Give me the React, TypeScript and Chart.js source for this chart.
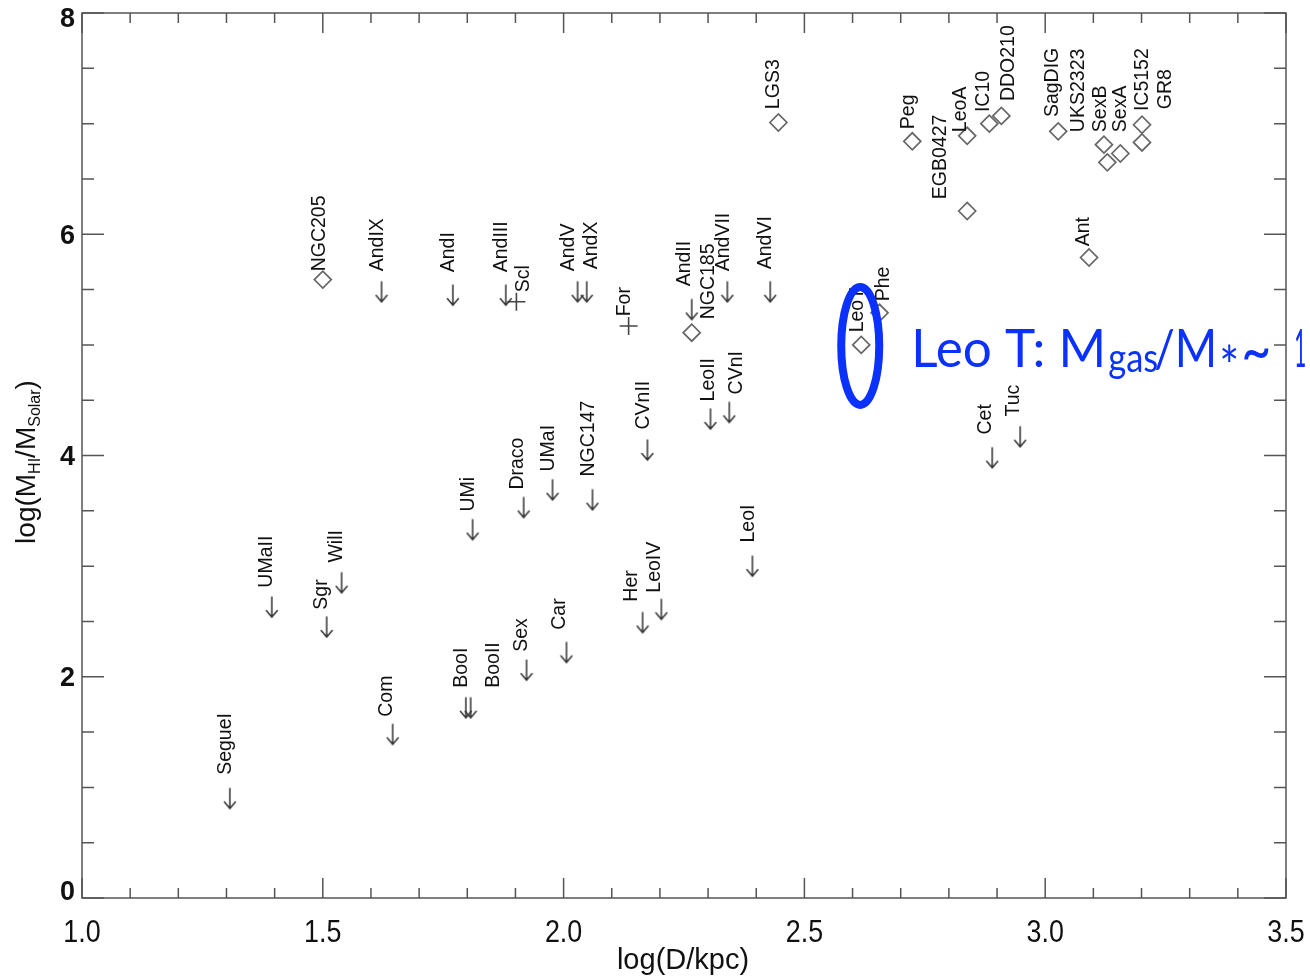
import React, { useEffect, useRef } from "react";
import { Chart, registerables } from "chart.js";

Chart.register(...registerables);

// ---- data ----
const names = [
  "NGC205", "AndIX", "AndI", "AndIII", "Scl", "AndV", "AndX", "For", "AndII", "NGC185",
  "AndVII", "AndVI", "LeoT", "Phe", "LeoII", "CVnI", "CVnII", "NGC147", "UMaI", "Draco",
  "UMi", "WilI", "UMaII", "Sgr", "Com", "BooI", "BooII", "Sex", "Car", "Her",
  "LeoIV", "LeoI", "Cet", "Tuc", "SegueI", "LGS3", "Peg", "EGB0427", "LeoA", "IC10",
  "DDO210", "SagDIG", "UKS2323", "SexB", "SexA", "IC5152", "GR8", "Ant",
];
// log(D/kpc)
const logD = [
  1.500, 1.622, 1.770, 1.880, 1.902, 2.029, 2.048, 2.135, 2.266, 2.266,
  2.340, 2.429, 2.618, 2.656, 2.305, 2.344, 2.174, 2.060, 1.977, 1.917,
  1.811, 1.539, 1.394, 1.508, 1.645, 1.797, 1.807, 1.923, 2.006, 2.164,
  2.203, 2.392, 2.890, 2.948, 1.307, 2.446, 2.724, 2.838, 2.838, 2.884,
  2.909, 3.027, 3.129, 3.122, 3.156, 3.201, 3.201, 3.091,
];
// log(M_HI / M_Solar)
const logMHI = [
  5.59, 5.48, 5.45, 5.45, 5.39, 5.48, 5.48, 5.17, 5.32, 5.11,
  5.48, 5.48, 5.00, 5.29, 4.33, 4.39, 4.05, 3.60, 3.69, 3.53,
  3.33, 2.85, 2.63, 2.45, 1.48, 1.72, 1.72, 2.06, 2.22, 2.49,
  2.61, 3.00, 3.98, 4.17, 0.90, 7.01, 6.84, 6.21, 6.89, 7.00,
  7.07, 6.93, 6.65, 6.81, 6.73, 6.99, 6.83, 5.79,
];
// d = detection, u = upper limit, o = other
const kinds = [
  "d", "u", "u", "u", "o", "u", "u", "o", "u", "d",
  "u", "u", "d", "d", "u", "u", "u", "u", "u", "u",
  "u", "u", "u", "u", "u", "u", "u", "u", "u", "u",
  "u", "u", "u", "u", "u", "d", "d", "d", "d", "d",
  "d", "d", "d", "d", "d", "d", "d", "d",
];
// label anchors (data coordinates, start of rotated text)
const labelLogD = [
  1.490, 1.610, 1.757, 1.867, 1.913, 2.008, 2.054, 2.124, 2.247, 2.297,
  2.328, 2.417, 2.608, 2.662, 2.297, 2.355, 2.162, 2.048, 1.965, 1.902,
  1.799, 1.525, 1.380, 1.494, 1.629, 1.784, 1.851, 1.909, 1.988, 2.137,
  2.185, 2.380, 2.873, 2.932, 1.295, 2.432, 2.712, 2.780, 2.822, 2.869,
  2.921, 3.012, 3.066, 3.112, 3.154, 3.199, 3.247, 3.077,
];
const labelLogM = [
  5.665, 5.665, 5.656, 5.656, 5.475, 5.665, 5.683, 5.258, 5.529, 5.231,
  5.665, 5.683, 5.113, 5.394, 4.489, 4.552, 4.235, 3.810, 3.855, 3.692,
  3.493, 3.032, 2.805, 2.606, 1.638, 1.900, 1.900, 2.226, 2.425, 2.679,
  2.760, 3.213, 4.190, 4.353, 1.113, 7.131, 6.950, 6.317, 6.923, 7.104,
  7.204, 7.059, 6.923, 6.923, 6.923, 7.113, 7.131, 5.891,
];
const xTickValues = [1.0, 1.5, 2.0, 2.5, 3.0, 3.5];
const yTickValues = [0, 2, 4, 6, 8];
const highlighted = "LeoT";
const annotationParts = ["Leo T: M", "gas", "/M", "*", "~", "1"];

const LABEL_FONT = '"Liberation Sans", Arial, Helvetica, sans-serif';

function makeArrow(): HTMLCanvasElement {
  const c = document.createElement("canvas");
  c.width = 14;
  c.height = 24;
  const g = c.getContext("2d")!;
  g.strokeStyle = "#333";
  g.lineWidth = 1.5;
  g.lineCap = "round";
  g.beginPath();
  g.moveTo(7, 2);
  g.lineTo(7, 22);
  g.moveTo(1.5, 15.5);
  g.lineTo(7, 22);
  g.lineTo(12.5, 15.5);
  g.stroke();
  return c;
}

const framePlugin = {
  id: "frameTicks",
  afterDatasetsDraw(chart: any) {
    const { ctx, chartArea: a, scales } = chart;
    const xs = scales.x, ys = scales.y;
    ctx.save();
    ctx.strokeStyle = "#555";
    ctx.lineWidth = 1.5;
    ctx.strokeRect(a.left, a.top, a.right - a.left, a.bottom - a.top);
    ctx.beginPath();
    for (let i = 10; i <= 35; i++) {
      const px = xs.getPixelForValue(i / 10);
      const len = i % 5 === 0 ? 20 : 10;
      ctx.moveTo(px, a.bottom);
      ctx.lineTo(px, a.bottom - len);
      ctx.moveTo(px, a.top);
      ctx.lineTo(px, a.top + len);
    }
    for (let i = 0; i <= 16; i++) {
      const py = ys.getPixelForValue(i / 2);
      const len = i % 4 === 0 ? 22 : 12;
      ctx.moveTo(a.left, py);
      ctx.lineTo(a.left + len, py);
      ctx.moveTo(a.right, py);
      ctx.lineTo(a.right - len, py);
    }
    ctx.stroke();

    // tick labels
    ctx.fillStyle = "#111";
    ctx.textBaseline = "middle";
    ctx.textAlign = "right";
    ctx.font = `bold 27px ${LABEL_FONT}`;
    yTickValues.forEach((v) => {
      const py = ys.getPixelForValue(v);
      const cy = Math.min(Math.max(py + 2, a.top + 7), a.bottom - 5);
      ctx.fillText(String(v), a.left - 7, cy);
    });
    ctx.textAlign = "center";
    ctx.textBaseline = "alphabetic";
    ctx.font = `32px ${LABEL_FONT}`;
    xTickValues.forEach((v) => {
      const px = xs.getPixelForValue(v);
      ctx.save();
      ctx.translate(px, a.bottom + 44);
      ctx.scale(0.84, 1);
      ctx.fillText(v.toFixed(1), 0, 0);
      ctx.restore();
    });
    ctx.restore();
  },
};

const labelPlugin = {
  id: "pointLabels",
  afterDatasetsDraw(chart: any) {
    const { ctx, scales } = chart;
    const fs = 19.5;
    ctx.save();
    ctx.font = `${fs}px ${LABEL_FONT}`;
    ctx.fillStyle = "#111";
    ctx.textAlign = "left";
    ctx.textBaseline = "alphabetic";
    names.forEach((n, i) => {
      const px = scales.x.getPixelForValue(labelLogD[i]);
      const py = scales.y.getPixelForValue(labelLogM[i]);
      ctx.save();
      ctx.translate(px + fs * 0.36, py);
      ctx.rotate(-Math.PI / 2);
      ctx.fillText(n, 0, 0);
      ctx.restore();
    });
    ctx.restore();
  },
};

const titlePlugin = {
  id: "axisTitles",
  afterDraw(chart: any) {
    const { ctx } = chart;
    ctx.save();
    ctx.fillStyle = "#111";
    ctx.textBaseline = "alphabetic";
    // x title
    ctx.font = `29px ${LABEL_FONT}`;
    ctx.textAlign = "center";
    ctx.fillText("log(D/kpc)", 683, 969);
    // y title with subscripts, rotated
    const big = `28px ${LABEL_FONT}`;
    const small = `16px ${LABEL_FONT}`;
    const parts: [string, string, number][] = [
      ["log(M", big, 0],
      ["HI", small, 5],
      ["/M", big, 0],
      ["Solar", small, 5],
      [")", big, 0],
    ];
    let total = 0;
    parts.forEach(([t, f]) => {
      ctx.font = f;
      total += ctx.measureText(t).width;
    });
    ctx.translate(35, 462 + total / 2);
    ctx.rotate(-Math.PI / 2);
    ctx.textAlign = "left";
    let x = 0;
    parts.forEach(([t, f, dy]) => {
      ctx.font = f;
      ctx.fillText(t, x, dy);
      x += ctx.measureText(t).width;
    });
    ctx.restore();
  },
};

const annotationPlugin = {
  id: "leoT",
  afterDraw(chart: any) {
    const { ctx, scales } = chart;
    const i = names.indexOf(highlighted);
    const cx = scales.x.getPixelForValue(logD[i]);
    const cy = scales.y.getPixelForValue(logMHI[i]);
    const blue = "#0b31ff";
    ctx.save();
    ctx.strokeStyle = blue;
    ctx.lineWidth = 8;
    ctx.beginPath();
    ctx.ellipse(cx - 1, cy + 1, 19, 59, 0, 0, Math.PI * 2);
    ctx.stroke();

    ctx.fillStyle = blue;
    ctx.textAlign = "left";
    ctx.textBaseline = "alphabetic";
    const base = cy + 22;
    const x0 = cx + 50;
    const F = '"Lato", "Open Sans", sans-serif';
    ctx.font = `53px ${F}`;
    ctx.fillText(annotationParts[0], x0, base, 195);
    ctx.font = `40px ${F}`;
    ctx.fillText(annotationParts[1], x0 + 197, base + 5, 50);
    ctx.font = `53px ${F}`;
    ctx.fillText(annotationParts[2], x0 + 243, base, 63);
    ctx.font = `54px ${F}`;
    ctx.fillText(annotationParts[3], x0 + 308, base + 18, 20);
    ctx.font = `64px ${F}`;
    ctx.fillText(annotationParts[4], x0 + 330, base + 6, 30);
    ctx.font = `53px ${F}`;
    ctx.fillText(annotationParts[5], x0 + 383, base, 12);
    ctx.restore();
  },
};

export default function App() {
  const ref = useRef<HTMLCanvasElement | null>(null);

  useEffect(() => {
    if (!ref.current) return;
    const arrow = makeArrow();
    const pts = (k: string) =>
      names
        .map((_, i) => ({ x: logD[i], y: logMHI[i], k: kinds[i] }))
        .filter((p) => p.k === k)
        .map((p) => ({ x: p.x, y: p.y }));

    const chart = new Chart(ref.current, {
      type: "scatter",
      data: {
        datasets: [
          {
            label: "detections",
            data: pts("d"),
            pointStyle: "rectRot",
            pointRadius: 8.5,
            borderColor: "#666",
            borderWidth: 1.7,
            backgroundColor: "rgba(0,0,0,0)",
          },
          {
            label: "upper limits",
            data: pts("u"),
            pointStyle: arrow as any,
            pointRadius: 10,
          },
          {
            label: "other",
            data: pts("o"),
            pointStyle: "cross",
            pointRadius: 9,
            borderColor: "#444",
            borderWidth: 1.6,
          },
        ],
      },
      options: {
        responsive: false,
        animation: false,
        events: [],
        layout: { padding: { top: 13, right: 24, left: 0, bottom: 0 } },
        plugins: { legend: { display: false }, tooltip: { enabled: false } },
        scales: {
          x: {
            type: "linear",
            min: 1,
            max: 3.5,
            ticks: { display: false },
            grid: { display: false, drawTicks: false },
            border: { display: false },
            afterFit: (s: any) => {
              s.height = 80;
            },
          },
          y: {
            type: "linear",
            min: 0,
            max: 8,
            ticks: { display: false },
            grid: { display: false, drawTicks: false },
            border: { display: false },
            afterFit: (s: any) => {
              s.width = 82;
            },
          },
        },
      },
      plugins: [framePlugin, labelPlugin, titlePlugin, annotationPlugin],
    });
    return () => chart.destroy();
  }, []);

  return (
    <div style={{ position: "fixed", left: 0, top: 0, width: 1310, height: 978, background: "#fff" }}>
      <canvas ref={ref} width={1310} height={978} style={{ width: 1310, height: 978, display: "block" }} />
    </div>
  );
}
